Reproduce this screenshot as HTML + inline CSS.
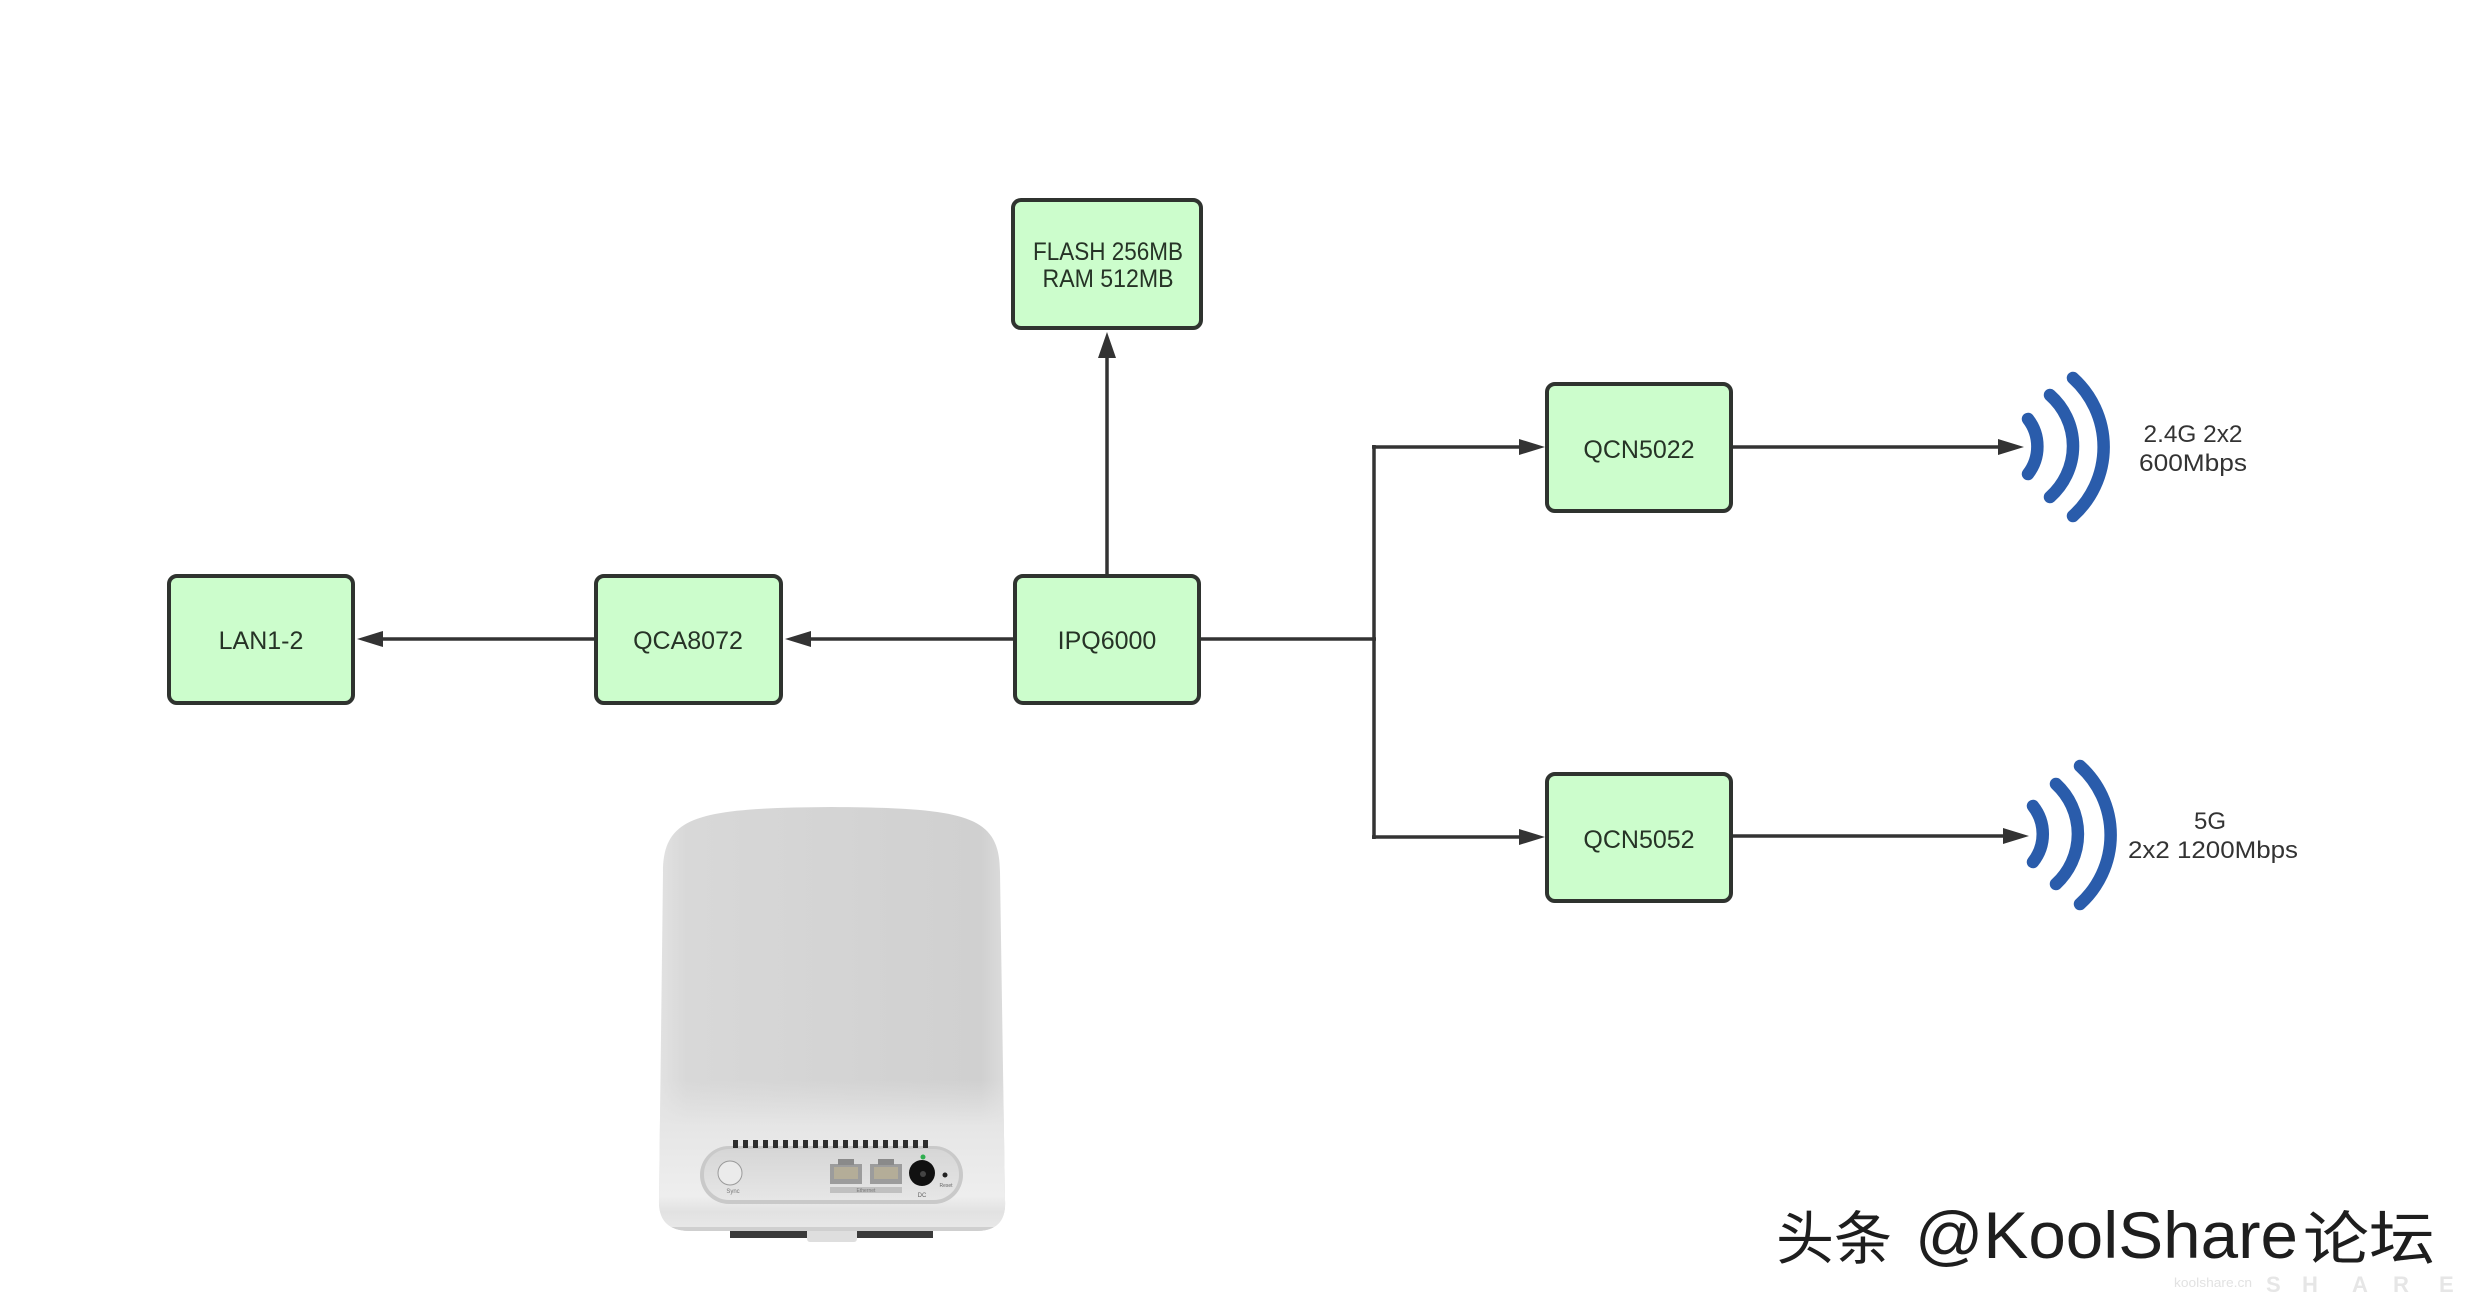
<!DOCTYPE html>
<html>
<head>
<meta charset="utf-8">
<style>
html,body{margin:0;padding:0;background:#ffffff;}
body{width:2471px;height:1302px;overflow:hidden;}
svg{display:block;}
.bt{font-family:"Liberation Sans","Noto Sans CJK SC",sans-serif;font-size:25px;fill:#263326;}
.lt{font-family:"Liberation Sans","Noto Sans CJK SC",sans-serif;font-size:24px;fill:#333333;}
</style>
</head>
<body>
<svg width="2471" height="1302" viewBox="0 0 2471 1302" xmlns="http://www.w3.org/2000/svg">
  <defs>
    <linearGradient id="bodyG" x1="0" y1="0" x2="1" y2="0">
      <stop offset="0" stop-color="#e2e2e2"/>
      <stop offset="0.08" stop-color="#d8d8d8"/>
      <stop offset="0.5" stop-color="#d4d4d4"/>
      <stop offset="0.93" stop-color="#d0d0d0"/>
      <stop offset="1" stop-color="#dcdcdc"/>
    </linearGradient>
    <linearGradient id="baseG" x1="0" y1="0" x2="0" y2="1">
      <stop offset="0" stop-color="#e4e4e4" stop-opacity="0"/>
      <stop offset="0.3" stop-color="#e6e6e6"/>
      <stop offset="0.75" stop-color="#eeeeee"/>
      <stop offset="0.85" stop-color="#e2e2e2"/>
      <stop offset="1" stop-color="#eaeaea"/>
    </linearGradient>
    <linearGradient id="panelG" x1="0" y1="0" x2="0" y2="1">
      <stop offset="0" stop-color="#d6d6d6"/>
      <stop offset="1" stop-color="#e6e6e6"/>
    </linearGradient>
    <clipPath id="bodyClip">
      <path d="M663 872 C663 815 700 808 832 807 C965 808 1000 815 1000 872 L1005 1200 Q1007 1230 978 1231 L688 1231 Q658 1230 659 1200 Z"/>
    </clipPath>
  </defs>

  <!-- connectors -->
  <g stroke="#333333" stroke-width="3.5" fill="none">
    <line x1="1107" y1="574" x2="1107" y2="352"/>
    <line x1="594" y1="639" x2="378" y2="639"/>
    <line x1="1013" y1="639" x2="804" y2="639"/>
    <line x1="1201" y1="639" x2="1376" y2="639"/>
    <line x1="1374" y1="445" x2="1374" y2="839"/>
    <line x1="1372" y1="447" x2="1524" y2="447"/>
    <line x1="1372" y1="837" x2="1524" y2="837"/>
    <line x1="1733" y1="447" x2="2002" y2="447"/>
    <line x1="1733" y1="836" x2="2007" y2="836"/>
  </g>
  <g fill="#333333">
    <polygon points="1107,332 1098,358 1116,358"/>
    <polygon points="357,639 383,631 383,647"/>
    <polygon points="785,639 811,631 811,647"/>
    <polygon points="1545,447 1519,439 1519,455"/>
    <polygon points="1545,837 1519,829 1519,845"/>
    <polygon points="2024,447 1998,439 1998,455"/>
    <polygon points="2029,836 2003,828 2003,844"/>
  </g>

  <!-- boxes -->
  <g fill="#ccfdcc" stroke="#2f332f" stroke-width="4">
    <rect x="1013" y="200" width="188" height="128" rx="8"/>
    <rect x="169" y="576" width="184" height="127" rx="8"/>
    <rect x="596" y="576" width="185" height="127" rx="8"/>
    <rect x="1015" y="576" width="184" height="127" rx="8"/>
    <rect x="1547" y="384" width="184" height="127" rx="8"/>
    <rect x="1547" y="774" width="184" height="127" rx="8"/>
  </g>
  <g class="bt" text-anchor="middle">
    <text x="1108" y="260" textLength="150" lengthAdjust="spacingAndGlyphs">FLASH 256MB</text>
    <text x="1108" y="287" textLength="131" lengthAdjust="spacingAndGlyphs">RAM 512MB</text>
    <text x="261" y="649">LAN1-2</text>
    <text x="688" y="649">QCA8072</text>
    <text x="1107" y="649">IPQ6000</text>
    <text x="1639" y="458">QCN5022</text>
    <text x="1639" y="848">QCN5052</text>
  </g>

  <!-- wifi icons -->
  <g stroke="#2a5cab" stroke-width="12.5" fill="none" stroke-linecap="round">
    <path d="M2028 419 A45 45 0 0 1 2028 474"/>
    <path d="M2050 395 A68 68 0 0 1 2050 497"/>
    <path d="M2073 378 A93 93 0 0 1 2073 516"/>
    <path d="M2033 806 A45 45 0 0 1 2033 862"/>
    <path d="M2056 784 A68 68 0 0 1 2056 884"/>
    <path d="M2080 766 A93 93 0 0 1 2080 904"/>
  </g>
  <g class="lt" text-anchor="middle">
    <text x="2193" y="442" textLength="99" lengthAdjust="spacingAndGlyphs">2.4G 2x2</text>
    <text x="2193" y="471" textLength="108" lengthAdjust="spacingAndGlyphs">600Mbps</text>
    <text x="2210" y="829">5G</text>
    <text x="2213" y="858" textLength="170" lengthAdjust="spacingAndGlyphs">2x2 1200Mbps</text>
  </g>

  <!-- router device -->
  <g>
    <!-- feet -->
    <rect x="730" y="1222" width="77" height="16" fill="#3a3a3a"/>
    <rect x="857" y="1222" width="76" height="16" fill="#3a3a3a"/>
    <rect x="807" y="1224" width="50" height="18" rx="3" fill="#dedede"/>
    <!-- body -->
    <path d="M663 872 C663 815 700 808 832 807 C965 808 1000 815 1000 872 L1005 1200 Q1007 1230 978 1231 L688 1231 Q658 1230 659 1200 Z" fill="url(#bodyG)"/>
    <g clip-path="url(#bodyClip)">
      <rect x="650" y="1080" width="370" height="155" fill="url(#baseG)"/>
      <rect x="650" y="1227" width="370" height="6" fill="#cfcfcf"/>
    </g>
    <!-- panel -->
    <rect x="700" y="1146" width="263" height="58" rx="29" fill="#c9c9c9"/>
    <rect x="704" y="1149" width="255" height="51" rx="25" fill="url(#panelG)"/>
    <g fill="#2e2e2e">
      <rect x="733" y="1140" width="5" height="8"/><rect x="743" y="1140" width="5" height="8"/>
      <rect x="753" y="1140" width="5" height="8"/><rect x="763" y="1140" width="5" height="8"/>
      <rect x="773" y="1140" width="5" height="8"/><rect x="783" y="1140" width="5" height="8"/>
      <rect x="793" y="1140" width="5" height="8"/><rect x="803" y="1140" width="5" height="8"/>
      <rect x="813" y="1140" width="5" height="8"/><rect x="823" y="1140" width="5" height="8"/>
      <rect x="833" y="1140" width="5" height="8"/><rect x="843" y="1140" width="5" height="8"/>
      <rect x="853" y="1140" width="5" height="8"/><rect x="863" y="1140" width="5" height="8"/>
      <rect x="873" y="1140" width="5" height="8"/><rect x="883" y="1140" width="5" height="8"/>
      <rect x="893" y="1140" width="5" height="8"/><rect x="903" y="1140" width="5" height="8"/>
      <rect x="913" y="1140" width="5" height="8"/><rect x="923" y="1140" width="5" height="8"/>
    </g>
    <circle cx="730" cy="1173" r="12" fill="#ebebeb" stroke="#9a9a9a" stroke-width="1"/>
    <text x="733" y="1193" font-family="Liberation Sans, sans-serif" font-size="6" fill="#777" text-anchor="middle">Sync</text>
    <rect x="830" y="1164" width="32" height="20" fill="#9c9c9c"/>
    <rect x="834" y="1167" width="24" height="12" fill="#b4ad98"/>
    <rect x="838" y="1159" width="16" height="6" fill="#8a8a8a"/>
    <rect x="870" y="1164" width="32" height="20" fill="#9c9c9c"/>
    <rect x="874" y="1167" width="24" height="12" fill="#b4ad98"/>
    <rect x="878" y="1159" width="16" height="6" fill="#8a8a8a"/>
    <rect x="830" y="1187" width="72" height="6" fill="#c0c0c0"/>
    <text x="866" y="1192" font-family="Liberation Sans, sans-serif" font-size="5" fill="#777" text-anchor="middle">Ethernet</text>
    <circle cx="923" cy="1157" r="2.5" fill="#2fae4f"/>
    <circle cx="922" cy="1173" r="13" fill="#111"/>
    <circle cx="923" cy="1174" r="3" fill="#444"/>
    <text x="922" y="1197" font-family="Liberation Sans, sans-serif" font-size="6" fill="#666" text-anchor="middle">DC</text>
    <circle cx="945" cy="1175" r="2.5" fill="#222"/>
    <text x="946" y="1187" font-family="Liberation Sans, sans-serif" font-size="5" fill="#666" text-anchor="middle">Reset</text>
  </g>

  <!-- watermark -->
  <g>
    <text x="2174" y="1287" font-family="Liberation Sans, sans-serif" font-size="13" fill="#e2e2e2" textLength="78" lengthAdjust="spacingAndGlyphs">koolshare.cn</text>
    <g font-family="Liberation Sans, sans-serif" font-size="22" fill="#e6e6e6" font-weight="bold">
      <text x="2266" y="1292">S</text>
      <text x="2302" y="1292">H</text>
      <text x="2352" y="1292">A</text>
      <text x="2393" y="1292">R</text>
      <text x="2439" y="1292">E</text>
    </g>
    <text x="1776" y="1259" font-family="'Noto Sans CJK SC', 'WenQuanYi Zen Hei', sans-serif" font-size="58" fill="#1e1e1e" textLength="116" lengthAdjust="spacingAndGlyphs">头条</text>
    <text x="1915" y="1258" font-family="'Liberation Sans', sans-serif" font-size="66" fill="#1e1e1e" textLength="383" lengthAdjust="spacingAndGlyphs">@KoolShare</text>
    <text x="2303" y="1259" font-family="'Noto Sans CJK SC', 'WenQuanYi Zen Hei', sans-serif" font-size="58" fill="#1e1e1e" textLength="132" lengthAdjust="spacingAndGlyphs">论坛</text>
  </g>
</svg>
</body>
</html>
